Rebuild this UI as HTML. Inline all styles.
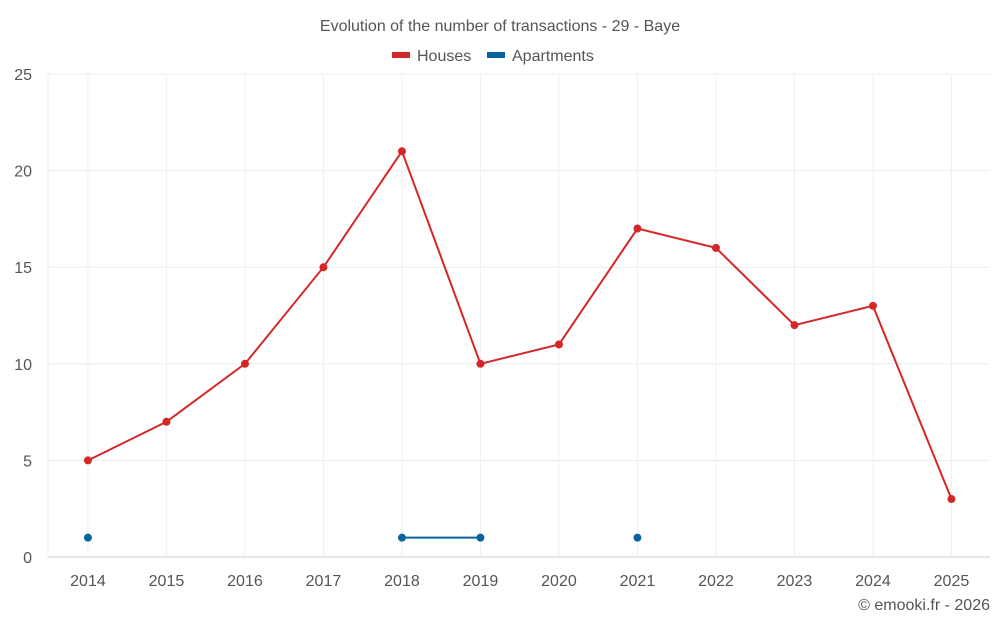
<!DOCTYPE html>
<html><head><meta charset="utf-8"><style>
body{margin:0;background:#fff;font-family:"Liberation Sans",sans-serif;}
svg text{font-family:"Liberation Sans",sans-serif;fill:#555;}
</style></head><body>
<svg id="c" width="1000" height="625">
<text x="500" y="31" text-anchor="middle" font-size="16">Evolution of the number of transactions - 29 - Baye</text>
<g>
<rect x="392" y="52" width="18" height="6" fill="#d62728"/>
<text x="417" y="61" font-size="16">Houses</text>
<rect x="487" y="52" width="18" height="6" fill="#08649f"/>
<text x="512" y="61" font-size="16">Apartments</text>
</g>
<g id="grid"></g><g id="axes"></g><g id="series"></g>
<text x="990" y="610" text-anchor="end" font-size="16">© emooki.fr - 2026</text>
</svg>
<script>
const years=[2014,2015,2016,2017,2018,2019,2020,2021,2022,2023,2024,2025];
const houses=[5,7,10,15,21,10,11,17,16,12,13,3];
const apartments=[1,null,null,null,1,1,null,1,null,null,null,null];
const yTicks=[0,5,10,15,20,25];
const L=48,R=990,T=74,B=557,yMax=25;
const bw=(R-L)/years.length;
const xs=i=>L+0.7+bw*(i+0.5);
const ys=v=>B-(v/yMax)*(B-T);
const NS="http://www.w3.org/2000/svg";
function mk(p,tag,a){const e=document.createElementNS(NS,tag);for(const k in a)e.setAttribute(k,a[k]);p.appendChild(e);return e;}
const g=document.getElementById('grid'),ax=document.getElementById('axes'),s=document.getElementById('series');
yTicks.forEach(t=>{
 const l=mk(g,'line',{x1:L,x2:R,y1:ys(t),y2:ys(t),stroke:t===0?'#ccc':'#ececec','stroke-width':1});
 
 
 const tx=mk(ax,'text',{x:32,y:ys(t)+6,'text-anchor':'end','font-size':16});
 tx.textContent=t;
 
 
});
const la=mk(g,'line',{x1:L,x2:L,y1:T,y2:B,stroke:'#ececec'});


years.forEach((y,i)=>{
 const l=mk(g,'line',{x1:xs(i),x2:xs(i),y1:T,y2:B,stroke:'#f0f0f0'});
 
 
 const tx=mk(ax,'text',{x:xs(i),y:586,'text-anchor':'middle','font-size':16});
 tx.textContent=y;
 
 
});
function draw(vals,color,name){
 let seg=[];const segs=[];
 vals.forEach((v,i)=>{if(v==null){if(seg.length)segs.push(seg);seg=[];}else seg.push([xs(i),ys(v)]);});
 if(seg.length)segs.push(seg);
 segs.forEach(sg=>{if(sg.length>1){const p=mk(s,'polyline',{points:sg.map(p=>p.join(',')).join(' '),fill:'none',stroke:color,'stroke-width':2});
  
  }});
 vals.forEach((v,i)=>{if(v==null)return;const c=mk(s,'circle',{cx:xs(i),cy:ys(v),r:4,fill:color});
  
  });
}
draw(houses,'#d62728','houses');
draw(apartments,'#08649f','apartments');
</script>
</body></html>
